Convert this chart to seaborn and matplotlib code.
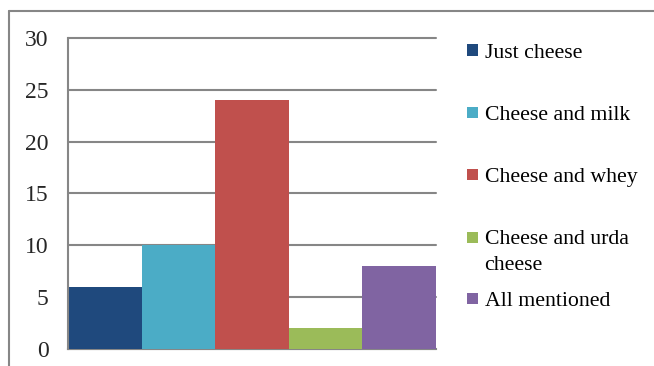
import matplotlib
matplotlib.use("Agg")
import matplotlib.pyplot as plt
import seaborn as sns
import pandas as pd
from matplotlib.patches import Rectangle
from matplotlib.lines import Line2D

categories = ["Just cheese", "Cheese and milk", "Cheese and whey", "Cheese and urda\ncheese", "All mentioned"]
values = [6, 10, 24, 2, 8]
colors = ["#1F497D", "#4BACC6", "#C0504D", "#9BBB59", "#8064A2"]
yticks = [0, 5, 10, 15, 20, 25, 30]

sns.set_theme(style="white")
plt.rcParams["font.family"] = ["Liberation Serif", "DejaVu Serif"]

W, H = 654, 366
fig = plt.figure(figsize=(W / 100, H / 100), dpi=100)
ax = fig.add_axes([68 / W, 1 - 349 / H, (436 - 68) / W, (349 - 38) / H])

df = pd.DataFrame({"cat": categories, "val": values})
sns.barplot(data=df, x="cat", y="val", hue="cat", palette=colors, width=1.0,
            dodge=False, legend=False, ax=ax, saturation=1)
for p in ax.patches:
    p.set_linewidth(0)

ax.set_xlim(-0.5, len(categories) - 0.5)
ax.set_ylim(0, 30)
ax.set_yticks(yticks)
ax.set_yticklabels([str(t) for t in yticks], fontsize=17)
ax.set_xticks([])
ax.set_xlabel("")
ax.set_ylabel("")
ax.tick_params(axis="y", length=0, pad=14)
ax.grid(axis="y", color="#868686", linewidth=1.5)
for gl in ax.get_ygridlines():
    gl.set_clip_on(False)
ax.set_axisbelow(True)
for s in ["top", "right"]:
    ax.spines[s].set_visible(False)
for s in ["left", "bottom"]:
    ax.spines[s].set_color("#868686")
    ax.spines[s].set_linewidth(1.5)
ax.spines["bottom"].set_zorder(0.5)

# outer chart frame (top and left visible)
fig.add_artist(Line2D([9 / W, 1.01], [1 - 11 / H, 1 - 11 / H], transform=fig.transFigure,
                      color="#868686", linewidth=1.5))
fig.add_artist(Line2D([9 / W, 9 / W], [-0.01, 1 - 11 / H], transform=fig.transFigure,
                      color="#868686", linewidth=1.5))

# legend
ys = [50, 112, 175, 237, 298]
for lab, col, yc in zip(categories, colors, ys):
    fig.add_artist(Rectangle((467 / W, 1 - (yc + 5.5) / H), 10.5 / W, 11 / H,
                             transform=fig.transFigure, facecolor=col, edgecolor="none"))
    for i, line in enumerate(lab.split("\n")):
        fig.text(484.5 / W, 1 - (yc + 7.5 + 26 * i) / H, line, fontsize=15.7, va="baseline",
                 ha="left", color="#000000")

fig.savefig("out.png", dpi=100)
